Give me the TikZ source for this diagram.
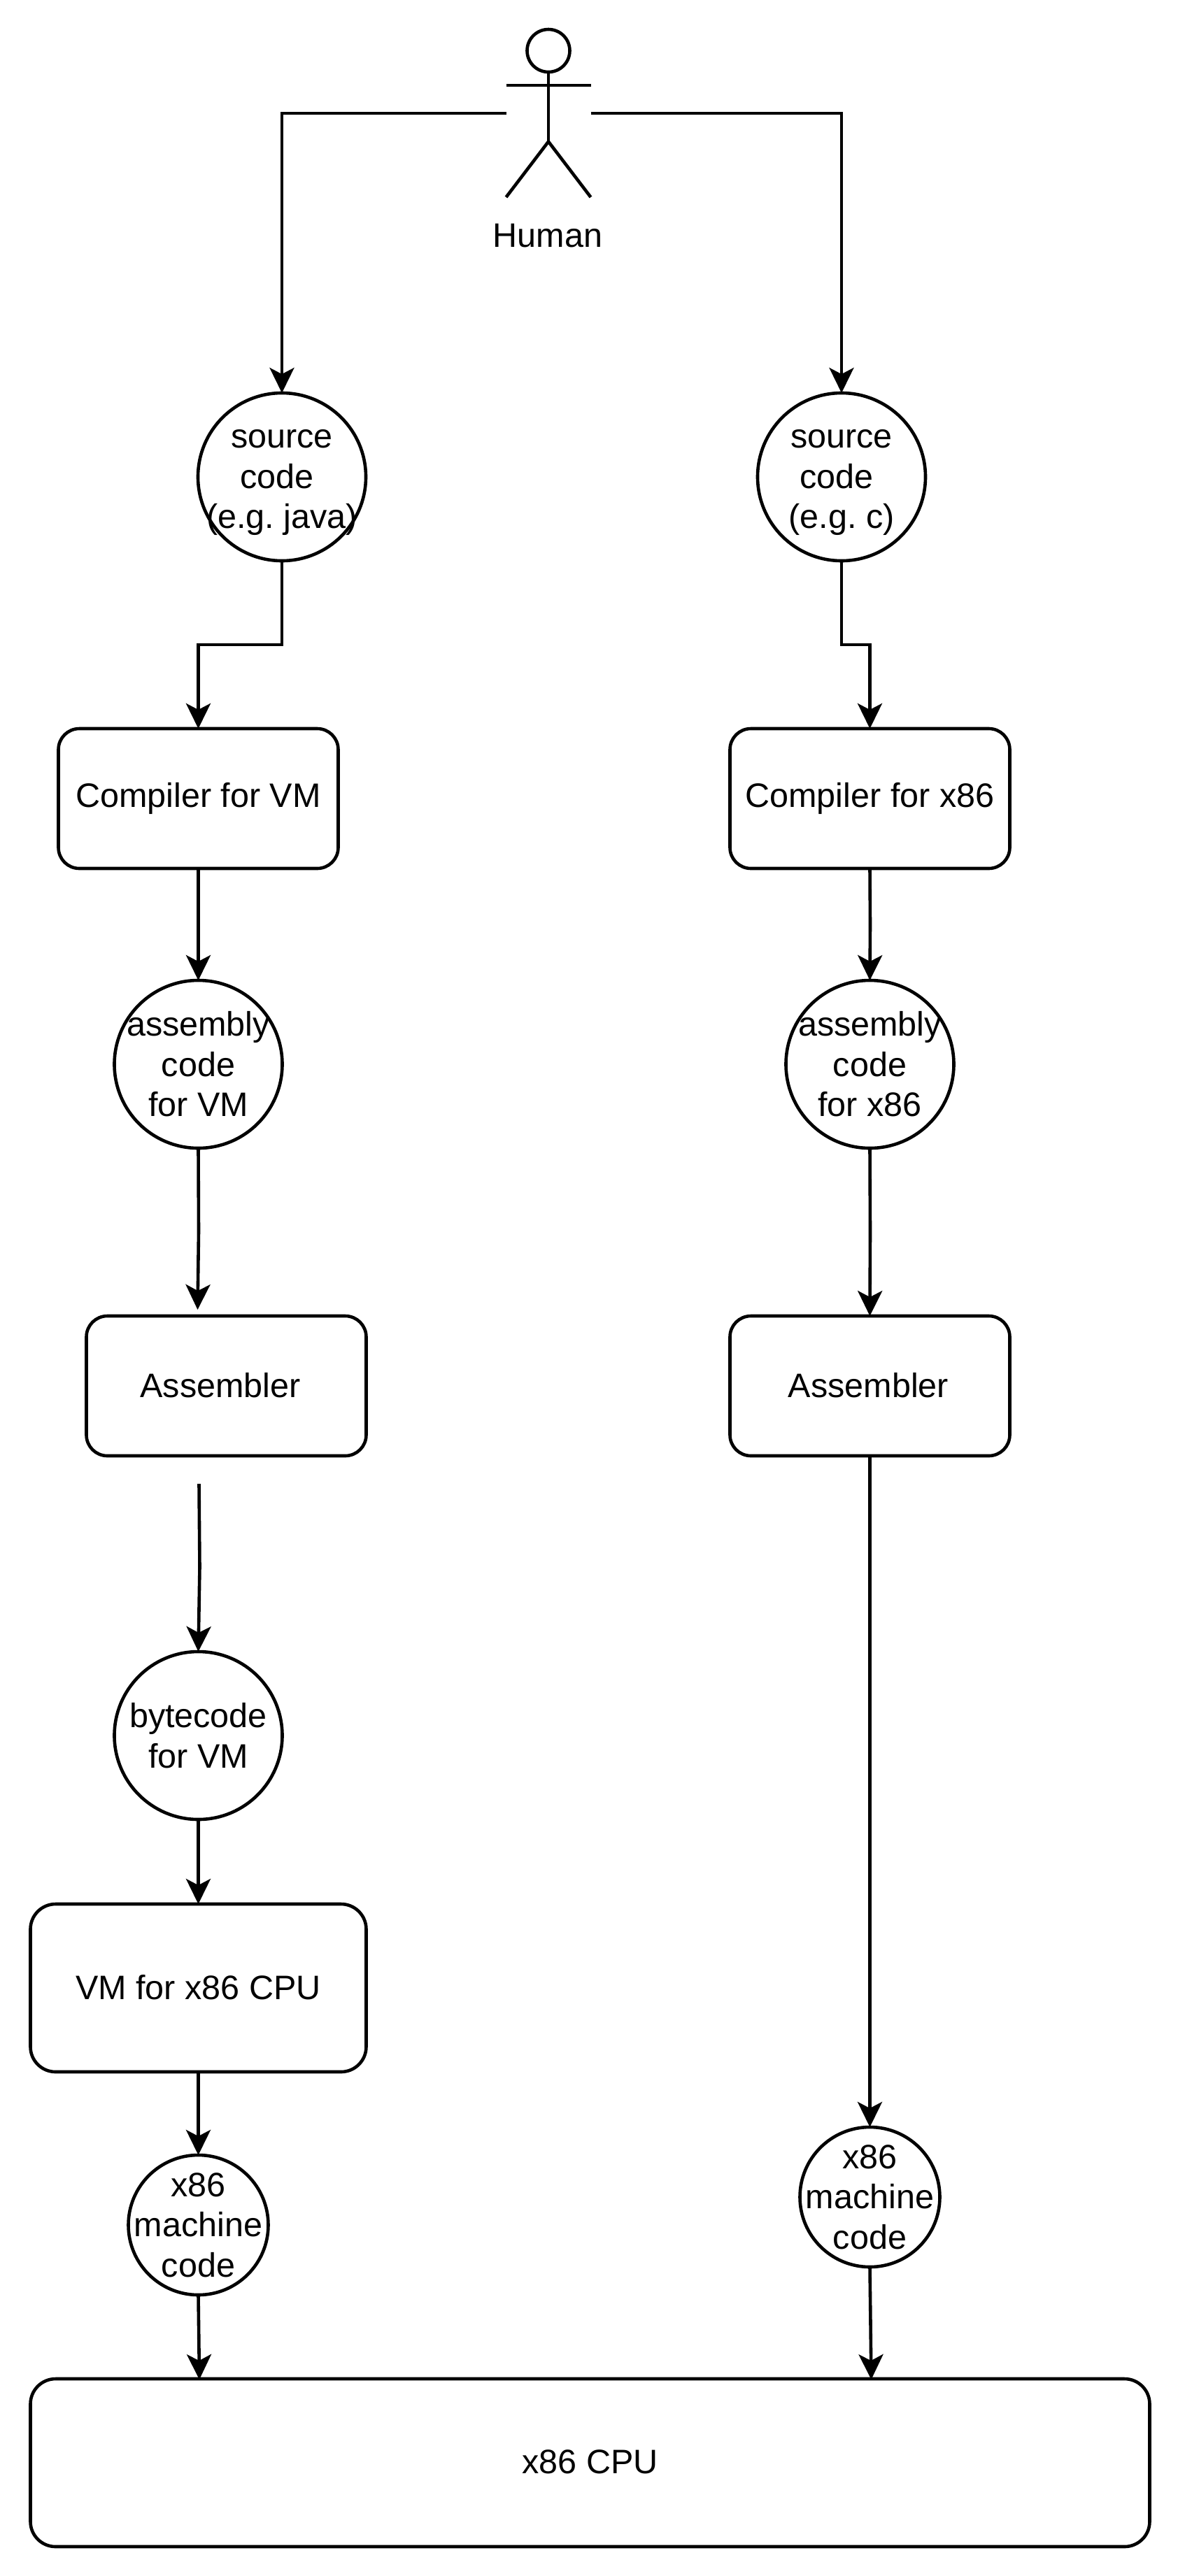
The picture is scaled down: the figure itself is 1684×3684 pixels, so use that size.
\documentclass[tikz,border=0pt]{standalone}
\usepackage{fontspec}
\setmainfont{Liberation Sans}
\usetikzlibrary{arrows.meta}
\tikzset{
  x=1pt,y=-1pt,
  every node/.style={outer sep=0pt,inner sep=0pt,font=\fontsize{48.5}{57.5}\selectfont\frenchspacing,align=center},
  ink/.style={line width=4.6pt,black},
  circ/.style={circle,draw,ink,minimum size=#1},
  rbox/.style={rectangle,draw,ink,rounded corners=#1},
  conn/.style={ink,-{Stealth[length=36pt,width=35pt,inset=9pt]}},
  figure/.style={ink,line cap=butt},
  srclabel/.style={label={[yshift=-8pt]center:{#1}}},
}
\begin{document}
\begin{tikzpicture}
\useasboundingbox (0,0) rectangle (1684,3684);
\fill[white] (0,0) rectangle (1684,3684);
\begin{scope}[xshift=1.5pt,yshift=-1pt]
% human
\node[minimum width=121pt,minimum height=240pt] (human) at (782.5,161) {};
\node (humanlabel) at (781.5,336) {Human};
\node[circ=61pt] (head) at (782.5,71.5) {};
\coordinate (hip) at (782.5,201.5);
\coordinate (armL) at (722,121);
\coordinate (armR) at (843,121);
\draw[figure] (head.south) -- (hip);
\draw[figure] (armL) -- (armR);
\draw[figure] (722,281) -- (hip) -- (843,281);
% source
\node[circ=240pt,srclabel={source\\code\ \mbox{}\\(e.g. java)}] (srcA) at (401.5,681) {};
\node[circ=240pt,srclabel={source\\code\ \mbox{}\\(e.g. c)}] (srcB) at (1201.5,681) {};
% compilers
\node[rbox=30pt,minimum width=400pt,minimum height=200pt] (compA) at (282,1141) {\raisebox{-1pt}{Compiler for VM}};
\node[rbox=30pt,minimum width=400pt,minimum height=200pt] (compB) at (1242,1141) {\raisebox{-1pt}{Compiler for x86}};
% assembly
\node[circ=240pt,label={center:{assembly\\code\\for VM}}] (asmA) at (282,1521) {};
\node[circ=240pt,label={center:{assembly\\code\\for x86}}] (asmB) at (1242,1521) {};
% assemblers
\node[rbox=30pt,minimum width=400pt,minimum height=200pt] (asrA) at (322,1981) {\raisebox{3pt}{Assembler}\hspace{17pt}};
\node[rbox=30pt,minimum width=400pt,minimum height=200pt] (asrB) at (1242,1981) {\raisebox{3pt}{Assembler}\hspace{4pt}};
% bytecode
\node[circ=240pt,label={center:{bytecode\\for VM}}] (byteA) at (282,2481) {};
% VM
\node[rbox=36pt,minimum width=480pt,minimum height=240pt] (vm) at (282,2842) {\raisebox{3pt}{VM for x86 CPU}};
% machine code
\node[circ=200pt,label={center:{x86\\machine\\code}}] (mcA) at (282,3181) {};
\node[circ=200pt,label={center:{x86\\machine\\code}}] (mcB) at (1242,3141) {};
% CPU
\node[rbox=36pt,minimum width=1600pt,minimum height=240pt] (cpu) at (842,3521) {\raisebox{3pt}{x86 CPU}};
% free ends
\coordinate (asmAend) at (281,1872);
\coordinate (byteStart) at (283,2121);
\coordinate (cpuA) at (283.5,3402);
\coordinate (cpuB) at (1244,3402);
% connectors
\draw[conn] (human.west) -| (srcA.north);
\draw[conn] (human.east) -| (srcB.north);
\draw[conn] (srcA.south) -- (401.5,921) -| (compA.north);
\draw[conn] (srcB.south) -- (1201.5,921) -| (compB.north);
\draw[conn] (compA.south) -- (asmA.north);
\draw[conn] (compB.south) -- (1242.5,1321) -- (asmB.north);
\draw[conn] (asmA.south) -- (282.5,1760) -- (asmAend);
\draw[conn] (asmB.south) -- (1242.5,1760) -- (asrB.north);
\draw[conn] (byteStart) -- (284,2240) -- (byteA.north);
\draw[conn] (byteA.south) -- (vm.north);
\draw[conn] (vm.south) -- (mcA.north);
\draw[conn] (mcA.south) -- (cpuA);
\draw[conn] (asrB.south) -- (mcB.north);
\draw[conn] (mcB.south) -- (cpuB);
\end{scope}
\end{tikzpicture}
\end{document}
